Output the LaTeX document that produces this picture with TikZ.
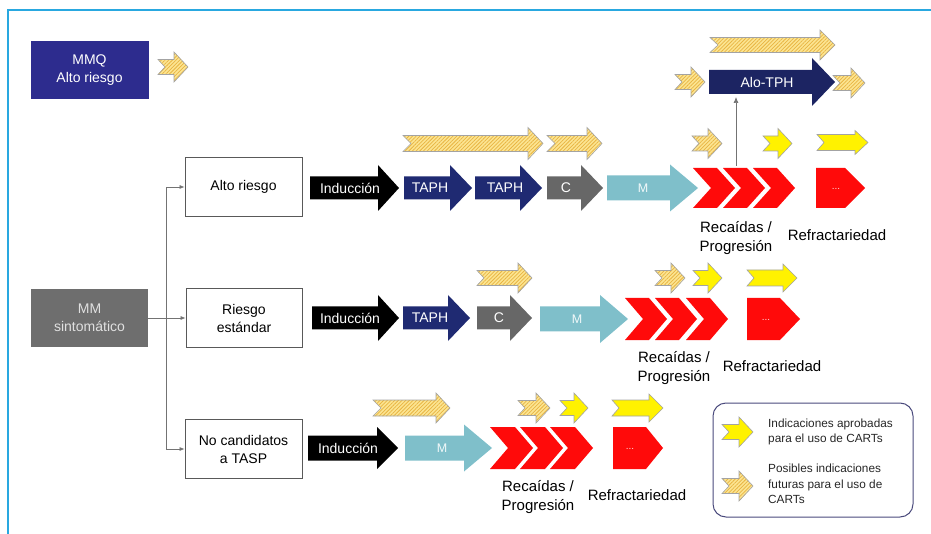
\documentclass[tikz,border=0pt]{standalone}
\usepackage{fontspec}
\setmainfont{Liberation Sans}
\usetikzlibrary{patterns.meta,arrows.meta}

\definecolor{framecyan}{HTML}{29A8E0}
\definecolor{mmqblue}{HTML}{2D2C8E}
\definecolor{navy}{HTML}{1F2A72}
\definecolor{alonavy}{HTML}{1C2462}
\definecolor{cgray}{HTML}{676767}
\definecolor{mblue}{HTML}{7FBFCA}
\definecolor{boxgray}{HTML}{6E6E6E}
\definecolor{hatchfill}{HTML}{FCE592}
\definecolor{hatchline}{HTML}{E8B442}
\definecolor{arredge}{HTML}{A3A3A3}
\definecolor{legendedge}{HTML}{4A4A7C}
\definecolor{redchev}{HTML}{FF0A0A}

% block arrow: style, x0, x1, y centre, body half, head half, head length, tail notch
\newcommand\blockarr[8]{%
  \path[#1] (#2,#4-#5) -- (#3-#7,#4-#5) -- (#3-#7,#4-#6) -- (#3,#4)
    -- (#3-#7,#4+#6) -- (#3-#7,#4+#5) -- (#2,#4+#5) -- (#2+#8,#4) -- cycle;}
% chevron: style, x0, y centre, half height, width, point depth
\newcommand\chevron[6]{%
  \path[#1] (#2,#3-#4) -- (#2+#5-#6,#3-#4) -- (#2+#5,#3) -- (#2+#5-#6,#3+#4)
    -- (#2,#3+#4) -- (#2+#6,#3) -- cycle;}
% small indication arrows (approved / possible)
\newcommand\smallarr[4]{\blockarr{#1}{#2}{#3}{#4}{7.5}{15}{14}{7}}

\begin{document}
\begin{tikzpicture}[x=1pt,y=-1pt,
  approved/.style={fill=yellow, draw=arredge, line width=0.6pt},
  possible/.style={preaction={fill=hatchfill},
    preaction={pattern={Lines[angle=45,distance=2.6pt,line width=0.75pt]},pattern color=hatchline},
    draw=arredge, line width=0.6pt},
  stage/.style={fill=#1},
  relapse/.style={fill=redchev},
  wbox/.style={draw=black!65, line width=0.8pt, fill=white, minimum width=117pt,
    minimum height=59pt, align=center, font=\fontsize{14}{18}\selectfont},
  fbox/.style={fill=#1, minimum width=118pt, minimum height=58pt, align=center,
    font=\fontsize{14}{18.5}\selectfont},
  arrtext/.style={text=white, font=\fontsize{14}{16}\selectfont, inner sep=0pt},
  lighttext/.style={text=white!90!mblue, font=\fontsize{12.5}{14}\selectfont, inner sep=0pt},
  dots/.style={text=white!85!red, font=\fontsize{10}{12}\selectfont, inner sep=0pt},
  phase/.style={align=center, font=\fontsize{15}{18.5}\selectfont, inner sep=0pt},
  conn/.style={draw=black!55, line width=0.7pt},
  legtext/.style={align=left, anchor=west, font=\fontsize{11.8}{15.5}\selectfont, text=black!85, inner sep=0pt}
]
\useasboundingbox (0,0) rectangle (931,534);

% frame
\draw[framecyan, line width=1.6pt] (8,534) -- (8,10) -- (931,10);

% ---------------- top: MMQ and Alo-TPH ----------------
\node[fbox=mmqblue, text=white] (mmq) at (89.5,70) {MMQ\\Alto riesgo};
\smallarr{possible}{158}{188}{67}

\blockarr{possible}{710}{835}{45}{7.5}{15}{15}{8}
\smallarr{possible}{675}{705}{82}
\blockarr{stage=alonavy}{709}{835}{82}{12}{24}{23}{0}
\node[arrtext] (alotph) at (767,82) {Alo-TPH};
\smallarr{possible}{833}{865}{83}

% ---------------- left: MM sintomático ----------------
\node[fbox=boxgray, text=black!12, minimum width=117pt] (mm) at (89.5,318) {MM\\sintomático};
\node[wbox] (alto) at (243.5,187) {Alto riesgo};
\node[wbox, minimum width=116pt] (riesgo) at (244,318) {Riesgo\\estándar};
\node[wbox] (nocand) at (243.5,449) {No candidatos\\a TASP};
\coordinate (split) at (166,318);
\draw[conn] (mm.east) -- (split);
\draw[conn, -{Latex[length=5pt,width=4pt]}] (split) |- (alto.west);
\draw[conn, -{Latex[length=5pt,width=4pt]}] (split) -- (riesgo.west);
\draw[conn, -{Latex[length=5pt,width=4pt]}] (split) |- (nocand.west);

% ---------------- row 1: alto riesgo ----------------
\blockarr{possible}{403}{543}{143.5}{8}{16}{15}{8}
\blockarr{possible}{547}{602}{143.5}{8}{16}{15}{8}
\smallarr{possible}{692}{722}{143.5}
\smallarr{approved}{763}{792}{143.5}
\blockarr{approved}{817}{868}{142.5}{8}{12}{13}{7}

\blockarr{stage=black}{310}{399}{188}{11.5}{23}{21}{0}
\node[arrtext] (ind1) at (350,188) {Inducción};
\blockarr{stage=navy}{404}{472}{188}{11.5}{23}{22}{0}
\node[arrtext] (taph1a) at (430,188) {TAPH};
\blockarr{stage=navy}{475}{542}{188}{11.5}{23}{22}{0}
\node[arrtext] (taph1b) at (505,188) {TAPH};
\blockarr{stage=cgray}{547}{603}{188}{11.5}{23}{22}{0}
\node[arrtext] (c1) at (566,188) {C};
\blockarr{stage=mblue}{607}{698}{188}{12.5}{23.5}{28}{0}
\node[lighttext] (m1) at (643,188) {M};

\chevron{relapse}{693}{188}{20}{42}{18}
\chevron{relapse}{723}{188}{20}{42}{18}
\chevron{relapse}{753}{188}{20}{42}{18}
\blockarr{relapse}{816}{865}{188}{20}{20}{20}{0}
\node[dots] (ref1dots) at (836,189) {...};

\coordinate (relapse1top) at (736,166);
\coordinate (alotphbottom) at (736,97);
\draw[conn, -{Latex[length=6pt,width=5pt]}] (relapse1top) -- (alotphbottom);

\node[phase] (rec1) at (736,238) {Recaídas /\\Progresión};
\node[phase] (ref1) at (837,235) {Refractariedad};

% ---------------- row 2: riesgo estándar ----------------
\smallarr{possible}{477}{532}{278}
\smallarr{possible}{655}{685}{278}
\smallarr{approved}{693}{722}{278}
\blockarr{approved}{747}{797}{278}{8}{14}{14}{7}

\blockarr{stage=black}{312}{399}{318}{11.5}{23}{21}{0}
\node[arrtext] (ind2) at (350,318) {Inducción};
\blockarr{stage=navy}{403}{470}{318}{11.5}{23}{22}{0}
\node[arrtext] (taph2) at (430,318) {TAPH};
\blockarr{stage=cgray}{477}{532}{318}{11.5}{23}{22}{0}
\node[arrtext] (c2) at (499,318) {C};
\blockarr{stage=mblue}{540}{628}{319}{12.5}{24}{28}{0}
\node[lighttext] (m2) at (577,319) {M};

\chevron{relapse}{625}{319}{21}{42}{18}
\chevron{relapse}{655}{319}{21}{42}{18}
\chevron{relapse}{686}{319}{21}{42}{18}
\blockarr{relapse}{747}{800}{319}{21}{21}{20}{0}
\node[dots] (ref2dots) at (766,320) {...};

\node[phase] (rec2) at (674,368) {Recaídas /\\Progresión};
\node[phase] (ref2) at (772,366) {Refractariedad};

% ---------------- row 3: no candidatos ----------------
\blockarr{possible}{373}{450}{408}{8}{15}{14}{8}
\smallarr{possible}{518}{550}{408}
\smallarr{approved}{560}{588}{408}
\blockarr{approved}{612}{663}{408}{8}{14}{14}{7}

\blockarr{stage=black}{308}{398}{448}{12.5}{21}{21}{0}
\node[arrtext] (ind3) at (348,448) {Inducción};
\blockarr{stage=mblue}{405}{492}{448}{12.5}{23.5}{28}{0}
\node[lighttext] (m3) at (442,448) {M};

\chevron{relapse}{490}{448}{21}{43}{18}
\chevron{relapse}{520}{448}{21}{43}{18}
\chevron{relapse}{550}{448}{21}{43}{18}
\blockarr{relapse}{613}{663}{448}{21}{21}{17}{0}
\node[dots] (ref3dots) at (630,449) {...};

\node[phase] (rec3) at (538,497) {Recaídas /\\Progresión};
\node[phase] (ref3) at (637,495) {Refractariedad};

% ---------------- legend ----------------
\draw[legendedge, line width=1pt, rounded corners=13pt] (713,403) rectangle (913,517);
\smallarr{approved}{722}{753}{432}
\node[legtext] (legapproved) at (768,432) {Indicaciones aprobadas\\para el uso de CARTs};
\smallarr{possible}{722}{753}{486}
\node[legtext] (legpossible) at (768,484) {Posibles indicaciones\\futuras para el uso de\\CARTs};

\end{tikzpicture}
\end{document}
